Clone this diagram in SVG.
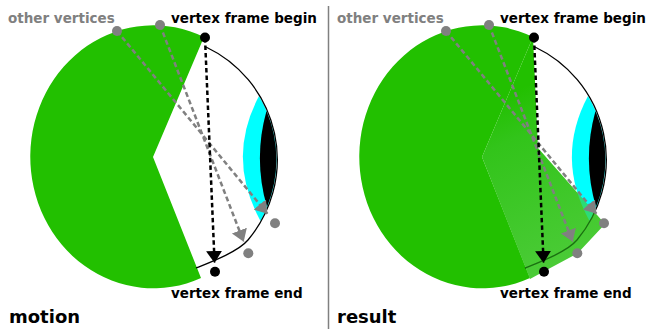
<svg xmlns="http://www.w3.org/2000/svg" width="649" height="329" viewBox="0 0 649 329">
<style>
.pie{fill:#22c000}
.cyan{fill:#00ffff}
.lens{fill:#000}
.arc{fill:none;stroke:#000;stroke-width:1.3}
.blk{fill:none;stroke:#000;stroke-width:2.5;stroke-dasharray:4.5,3}
.gry{fill:none;stroke:#808080;stroke-width:2.5;stroke-dasharray:5,3}
.gdot{fill:#808080}
.bdot{fill:#000}
.lbl{font-family:"DejaVu Sans","Liberation Sans",sans-serif;font-weight:bold;font-size:13.5px}
.gl{fill:#808080}
.big{font-family:"DejaVu Sans","Liberation Sans",sans-serif;font-weight:bold;font-size:18px;fill:#000}
</style>
<defs>
<marker id="ab" markerUnits="userSpaceOnUse" markerWidth="13" markerHeight="17" refX="12" refY="8" orient="auto" viewBox="0 0 13 17"><path d="M0,0 L12,8 L0,16 Z" fill="#000"/></marker>
<marker id="ag" markerUnits="userSpaceOnUse" markerWidth="13" markerHeight="17" refX="12" refY="8" orient="auto" viewBox="0 0 13 17"><path d="M0,0 L12,8 L0,16 Z" fill="#808080"/></marker>
<linearGradient id="lg" gradientUnits="userSpaceOnUse" x1="505" y1="95" x2="575" y2="255">
<stop offset="0" stop-color="#22c000"/>
<stop offset="0.25" stop-color="#32c41a"/>
<stop offset="1" stop-color="#4acb36"/>
</linearGradient>
<clipPath id="polyclip"><path d="M482,157 L533,37 L538,148 L605,224 L577.7,253.3 L543.3,271.7 L530,279 Z"/></clipPath>
<path id="cyanR" d="M588,96 A124.7,124.7 0 0 1 589.5,221 Q555,158 588,96 Z"/>
</defs>

<line x1="328.5" y1="6" x2="328.5" y2="329" stroke="#808080" stroke-width="1.5"/>

<g id="motion-panel">
  <path class="pie" d="M153,157 L204,37 A123,131.5 0 1 0 201,278 Z"/>
  <path class="cyan" d="M259,96 A124.7,124.7 0 0 1 260.5,221 Q226,158 259,96 Z"/>
  <path class="lens" d="M266.5,111 A124.7,124.7 0 0 1 267,207 Q253,159 266.5,111 Z"/>
  <path class="arc" d="M206,47 A124.7,124.7 0 0 1 248,240 C238.4,251.5 211,262 196,268"/>
  <g id="connectors-motion">
    <path class="gry" d="M117,31 L267.4,213.7" marker-end="url(#ag)"/>
    <path class="gry" d="M160,25 L243.7,241.8" marker-end="url(#ag)"/>
    <path class="blk" d="M205,38 L214.6,263" marker-end="url(#ab)"/>
  </g>
  <g id="dots-motion">
    <circle class="gdot" cx="117" cy="31" r="5"/>
    <circle class="gdot" cx="160" cy="25" r="5"/>
    <circle class="gdot" cx="275" cy="223.3" r="5"/>
    <circle class="gdot" cx="248.3" cy="253.3" r="5"/>
    <circle class="bdot" cx="205" cy="37.5" r="5"/>
    <circle class="bdot" cx="215" cy="271.7" r="5"/>
  </g>
  <text class="lbl gl" x="8" y="23">other vertices</text>
  <text class="lbl" x="171" y="23">vertex frame begin</text>
  <text class="lbl" x="171" y="298">vertex frame end</text>
  <text class="big" x="9" y="323">motion</text>
</g>

<g id="result-panel">
  <path class="pie" d="M482,157 L533,37 A123,131.5 0 1 0 530,278 Z"/>
  <use href="#cyanR" class="cyan"/>
  <path class="lens" d="M595.5,111 A124.7,124.7 0 0 1 596,207 Q582,159 595.5,111 Z"/>
  <path class="arc" d="M535,47 A124.7,124.7 0 0 1 577,240 C567.4,251.5 540,262 525,268"/>
  <path id="blur" d="M482,157 L533,37 L538,148 L605,224 L577.7,253.3 L543.3,271.7 L530,279 Z" fill="url(#lg)"/>
  <g clip-path="url(#polyclip)">
    <use href="#cyanR" fill="#00ffff" opacity="0.35"/>
    <path d="M535,47 A124.7,124.7 0 0 1 577,240 C567.4,251.5 540,262 525,268" fill="none" stroke="#1a7010" stroke-width="1.3"/>
  </g>
  <g id="connectors-result">
    <path class="gry" d="M446,31 L596.4,213.7" marker-end="url(#ag)"/>
    <path class="gry" d="M489,25 L572.7,241.8" marker-end="url(#ag)"/>
    <path class="blk" d="M534,38 L543.6,263" marker-end="url(#ab)"/>
  </g>
  <g id="dots-result">
    <circle class="gdot" cx="446" cy="31" r="5"/>
    <circle class="gdot" cx="489" cy="25" r="5"/>
    <circle class="gdot" cx="604" cy="223.3" r="5"/>
    <circle class="gdot" cx="577.3" cy="253.3" r="5"/>
    <circle class="bdot" cx="534" cy="37.5" r="5"/>
    <circle class="bdot" cx="544" cy="271.7" r="5"/>
  </g>
  <text class="lbl gl" x="337" y="23">other vertices</text>
  <text class="lbl" x="500" y="23">vertex frame begin</text>
  <text class="lbl" x="500" y="298">vertex frame end</text>
  <text class="big" x="337" y="323">result</text>
</g>
</svg>
